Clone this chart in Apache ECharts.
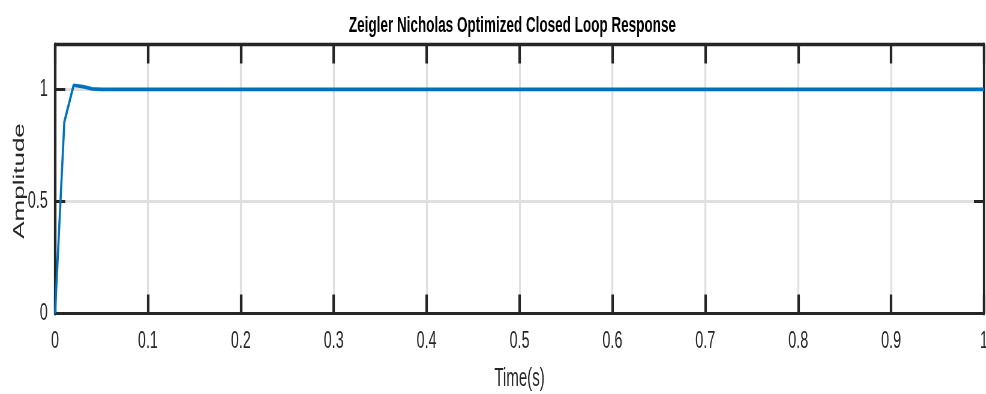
<!DOCTYPE html>
<html>
<head>
<meta charset="utf-8">
<script src="https://cdn.jsdelivr.net/npm/echarts@6/dist/echarts.min.js"></script>
<style>
  html, body { margin: 0; padding: 0; background: #fff; overflow: hidden; }
  /* The figure is laid out wide and then squeezed horizontally */
  #chart { width: 1643px; height: 394px; transform: scaleX(0.6); transform-origin: 0 0; }
</style>
</head>
<body>
<div id="chart"></div>
<script>
// Closed-loop step response samples
const timeSec = [0, 0.01, 0.02, 0.03, 0.04, 0.05, 1];
const amplitude = [0, 0.854, 1.018, 1.012, 1.002, 1.0, 1.0];

const titleText = 'Zeigler Nicholas Optimized Closed Loop Response';
const xAxisName = 'Time(s)';
const yAxisName = 'Amplitude';

const sans = "'Liberation Sans', Arial, Helvetica, sans-serif";
const ink = '#262626';
const gridGray = '#dfdfdf';

const chart = echarts.init(document.getElementById('chart'), null, { renderer: 'canvas' });

chart.setOption({
  animation: false,
  title: {
    text: titleText,
    left: 849, top: 9, textAlign: 'center',
    textStyle: { fontFamily: sans, fontWeight: 'bold', fontSize: 22.5, color: '#000' }
  },
  grid: { left: 91.7, right: 3, top: 44.5, bottom: 80.5, containLabel: false, outerBoundsMode: 'none' },
  graphic: [
    {
      type: 'text',
      x: 33, y: 181,
      rotation: Math.PI / 2,
      style: {
        text: yAxisName,
        font: "26px 'Liberation Sans', Arial, sans-serif",
        fill: ink,
        textAlign: 'center',
        textVerticalAlign: 'middle'
      }
    }
  ],
  xAxis: [
    {
      type: 'value', min: 0, max: 1, interval: 0.1,
      name: xAxisName, nameLocation: 'middle', nameGap: 53,
      nameTextStyle: { fontFamily: sans, fontSize: 25, color: ink },
      axisLine: { show: true, onZero: false, lineStyle: { color: ink, width: 3.2 } },
      axisTick: { show: true, inside: true, length: 19, lineStyle: { color: ink, width: 4.2 } },
      axisLabel: { fontFamily: sans, fontSize: 24, color: ink, margin: 16 },
      splitLine: { show: true, lineStyle: { color: gridGray, width: 3.3 } },
      z: 3
    },
    {
      type: 'value', min: 0, max: 1, interval: 0.1, position: 'top',
      axisLine: { show: true, onZero: false, lineStyle: { color: ink, width: 3.4 } },
      axisTick: { show: true, inside: true, length: 19, lineStyle: { color: ink, width: 4.2 } },
      axisLabel: { show: false },
      splitLine: { show: false },
      z: 3
    }
  ],
  yAxis: [
    {
      type: 'value', min: 0, max: 1.2, interval: 0.5,
      axisLine: { show: true, onZero: false, lineStyle: { color: ink, width: 4.2 } },
      axisTick: { show: true, inside: true, length: 17, lineStyle: { color: ink, width: 3 } },
      axisLabel: { fontFamily: sans, fontSize: 24, color: ink, margin: 12, showMaxLabel: false },
      splitLine: { show: true, lineStyle: { color: gridGray, width: 3 } },
      z: 3
    },
    {
      type: 'value', min: 0, max: 1.2, interval: 0.5, position: 'right',
      axisLine: { show: true, onZero: false, lineStyle: { color: ink, width: 4.2 } },
      axisTick: { show: true, inside: true, length: 17, lineStyle: { color: ink, width: 3 } },
      axisLabel: { show: false },
      splitLine: { show: false },
      z: 3
    }
  ],
  series: [
    {
      type: 'line',
      data: timeSec.map((t, i) => [t, amplitude[i]]),
      showSymbol: false,
      lineStyle: { color: '#0072BD', width: 3.6 },
      z: 5
    }
  ]
});
</script>
</body>
</html>
